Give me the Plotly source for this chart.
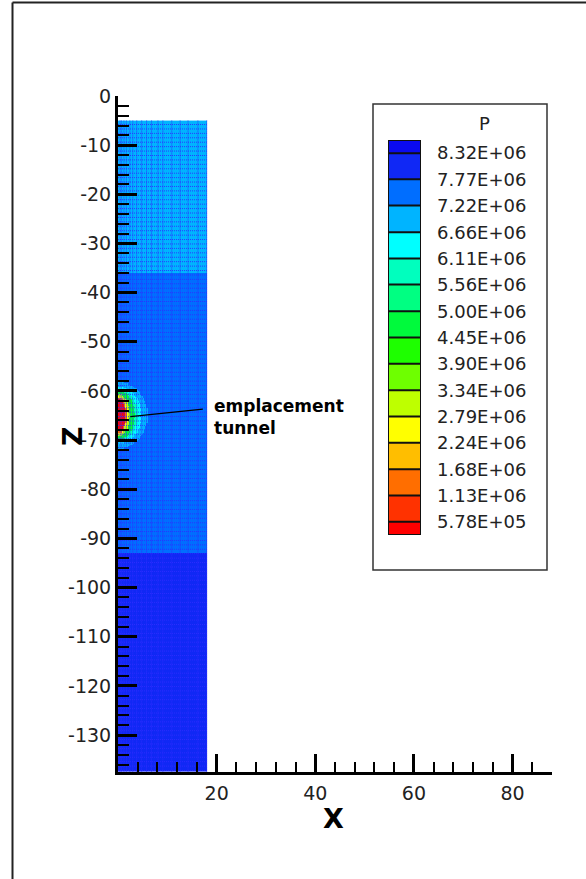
import numpy as np
import plotly.graph_objects as go

# ---- contour levels of pressure P (Pa) and legend text ----
levels = [5.78e5, 1.13e6, 1.68e6, 2.24e6, 2.79e6, 3.34e6, 3.90e6, 4.45e6,
          5.00e6, 5.56e6, 6.11e6, 6.66e6, 7.22e6, 7.77e6, 8.32e6]
level_labels = ["5.78E+05", "1.13E+06", "1.68E+06", "2.24E+06", "2.79E+06",
                "3.34E+06", "3.90E+06", "4.45E+06", "5.00E+06", "5.56E+06",
                "6.11E+06", "6.66E+06", "7.22E+06", "7.77E+06", "8.32E+06"]
# flood colours of the 16 bands, lowest pressure first
band_colors = ["rgb(255,0,0)", "rgb(255,50,0)", "rgb(255,110,0)", "rgb(255,190,0)",
               "rgb(255,255,0)", "rgb(190,255,0)", "rgb(110,255,0)", "rgb(30,255,0)",
               "rgb(0,250,60)", "rgb(0,255,130)", "rgb(0,255,190)", "rgb(0,255,255)",
               "rgb(0,180,255)", "rgb(0,110,255)", "rgb(16,40,245)", "rgb(10,10,240)"]

# ---- rock layers: top of model, base of each layer and its pressure ----
model_top = -5.0
model_right = 18.0
layer_base = [-36.0, -93.0, -137.5]
layer_P = [6.95e6, 7.50e6, 8.05e6]

# ---- pressure drop around the emplacement tunnel (outer ring to inner) ----
tunnel_z = -65.0
ring_ax = [6.0, 4.8, 4.0, 3.4, 2.4, 2.0, 1.8, 1.6]
ring_az = [6.8, 5.8, 5.3, 5.0, 4.3, 3.9, 3.6, 3.3]
ring_P = [6.90e6, 6.40e6, 5.80e6, 4.70e6, 3.00e6, 2.50e6, 1.40e6, 3.00e5]

# ---- computational mesh lines ----
mesh_cols = [0.4, 0.7, 1.2, 1.7, 2.4, 3.0, 3.8, 4.8, 5.8, 6.8, 8.1, 9.1, 10.9,
             12.6, 14.2, 16.2, 18.0]
mesh_rows = list(np.arange(-5.8, -137.5, -0.9))

# ---- axis ticks ----
x_ticks = [20, 40, 60, 80]
x_minor = [4, 8, 12, 16, 24, 28, 32, 36, 44, 48, 52, 56, 64, 68, 72, 76, 84]
z_ticks = [0, -10, -20, -30, -40, -50, -60, -70, -80, -90, -100, -110, -120, -130]
z_minor = [v for v in range(-2, -138, -2) if v % 10 != 0]

# ---- callout ----
callout_x = [2.5, 17.2]
callout_z = [-65.2, -63.7]
callout_text = "<b>emplacement</b><br><b>tunnel</b>"

# ---------------------------------------------------------------------------
W, H = 586, 879
ML, MR, MT, MB = 118, 34, 96, 107
PW, PH = W - ML - MR, H - MT - MB


def px_x(p):
    return (p - ML) / PW


def px_y(p):
    return 1 - (p - MT) / PH


# cell edges of the flooded field
cell = 0.25
x_edges = np.arange(0.0, model_right + cell / 2, cell)
z_edges = np.arange(model_top, layer_base[-1] - cell / 2, -cell)
xc = 0.5 * (x_edges[:-1] + x_edges[1:])
zc = 0.5 * (z_edges[:-1] + z_edges[1:])
XX, ZZ = np.meshgrid(xc, zc)

P = np.full(XX.shape, layer_P[-1])
for base, val in reversed(list(zip(layer_base, layer_P))):
    P[ZZ > base] = val
for a, b, val in zip(ring_ax, ring_az, ring_P):
    inside = (XX / a) ** 2 + ((ZZ - tunnel_z) / b) ** 2 <= 1.0
    P[inside] = val

step = (levels[-1] - levels[0]) / (len(levels) - 1)
zmin = levels[0] - step
zmax = levels[-1] + step
nb = len(band_colors)
colorscale = []
for i, c in enumerate(band_colors):
    colorscale.append([i / nb, c])
    colorscale.append([(i + 1) / nb, c])

fig = go.Figure()

fig.add_trace(go.Heatmap(
    x=x_edges, y=z_edges, z=P, colorscale=colorscale, zmin=zmin, zmax=zmax,
    showscale=False, hoverinfo="skip", zsmooth=False))

# mesh overlay
mx, mz = [], []
for c in mesh_cols:
    mx += [c, c, None]
    mz += [model_top, layer_base[-1], None]
for r in mesh_rows:
    mx += [0.0, model_right, None]
    mz += [r, r, None]
fig.add_trace(go.Scatter(
    x=mx, y=mz, mode="lines", hoverinfo="skip", showlegend=False,
    line=dict(color="rgba(45,45,255,0.9)", width=1, dash="1px,1px")))

# callout leader
fig.add_trace(go.Scatter(
    x=callout_x, y=callout_z, mode="lines", hoverinfo="skip", showlegend=False,
    line=dict(color="black", width=1.3)))

# ---- contour legend: colour boxes on their own axes ----
edges = [levels[0] - step / 2] + levels + [levels[-1] + step / 2]
mids = [[0.5 * (edges[i] + edges[i + 1])] for i in range(len(edges) - 1)]
fig.add_trace(go.Heatmap(
    x=[0, 1], y=edges, z=mids, colorscale=colorscale, zmin=zmin, zmax=zmax,
    showscale=False, hoverinfo="skip", xaxis="x2", yaxis="y2"))
lx, ly = [], []
for lv in levels:
    lx += [0, 1, None]
    ly += [lv, lv, None]
lx += [0, 1, 1, 0, 0]
ly += [edges[0], edges[0], edges[-1], edges[-1], edges[0]]
fig.add_trace(go.Scatter(
    x=lx, y=ly, mode="lines", hoverinfo="skip", showlegend=False,
    line=dict(color="#111", width=2), xaxis="x2", yaxis="y2", cliponaxis=False))

tick_font = dict(family="DejaVu Sans", size=19, color="#222")

fig.update_layout(
    width=W, height=H, margin=dict(l=ML, r=MR, t=MT, b=MB, pad=0),
    paper_bgcolor="white", plot_bgcolor="white", showlegend=False,
    xaxis=dict(
        range=[0, 88], showgrid=False, zeroline=False, showline=True,
        linecolor="black", linewidth=3, ticks="inside", ticklen=18, tickwidth=3,
        tickcolor="black", tickmode="array", tickvals=x_ticks,
        ticktext=[str(v) for v in x_ticks], tickfont=tick_font,
        ticklabelstandoff=2,
        minor=dict(tickmode="array", tickvals=x_minor, ticks="inside", ticklen=10,
                   tickwidth=2, tickcolor="black", showgrid=False)),
    yaxis=dict(
        range=[layer_base[-1], 0], showgrid=False, zeroline=False, showline=True,
        linecolor="black", linewidth=3, ticks="inside", ticklen=19, tickwidth=3,
        tickcolor="black", tickmode="array", tickvals=z_ticks,
        ticktext=[str(v) for v in z_ticks], tickfont=tick_font,
        minor=dict(tickmode="array", tickvals=z_minor, ticks="inside", ticklen=11,
                   tickwidth=2, tickcolor="black", showgrid=False)),
    xaxis2=dict(domain=[px_x(388), px_x(421)], range=[0, 1], anchor="y2",
                visible=False, fixedrange=True),
    yaxis2=dict(domain=[px_y(535), px_y(140)], range=[edges[0], edges[-1]],
                anchor="x2", side="right", showgrid=False, zeroline=False,
                showline=False, ticks="", tickmode="array", tickvals=levels,
                ticktext=level_labels, ticklabelstandoff=15,
                tickfont=dict(family="DejaVu Sans", size=18, color="#222"),
                fixedrange=True),
)

shapes = [
    # legend frame
    dict(type="rect", xref="paper", yref="paper", x0=px_x(373), x1=px_x(547),
         y0=px_y(570), y1=px_y(104), line=dict(color="#333", width=1.5)),
    # page frame
    dict(type="line", xref="paper", yref="paper", x0=px_x(12.5), x1=px_x(12.5),
         y0=px_y(2.5), y1=px_y(H + 5), line=dict(color="#222", width=2)),
    dict(type="line", xref="paper", yref="paper", x0=px_x(12.5), x1=px_x(W + 5),
         y0=px_y(2.5), y1=px_y(2.5), line=dict(color="#222", width=2)),
]
fig.update_layout(shapes=shapes)

annotations = [
    dict(text="P", xref="paper", yref="paper", x=px_x(484), y=px_y(123),
         xanchor="center", yanchor="middle", showarrow=False,
         font=dict(family="DejaVu Sans", size=18, color="#222")),
    dict(text="<b>X</b>", xref="paper", yref="paper", x=px_x(333), y=px_y(818),
         xanchor="center", yanchor="middle", showarrow=False,
         font=dict(family="DejaVu Sans", size=27, color="black")),
    dict(text="<b>Z</b>", xref="paper", yref="paper", x=px_x(72), y=px_y(436),
         xanchor="center", yanchor="middle", textangle=-90, showarrow=False,
         font=dict(family="DejaVu Sans", size=27, color="black")),
    dict(text=callout_text, x=19.0, y=-65.2, xref="x", yref="y",
         xanchor="left", yanchor="middle", align="left", showarrow=False,
         font=dict(family="DejaVu Sans", size=17, color="black")),
]
fig.update_layout(annotations=annotations)

fig.write_html("out.html")
